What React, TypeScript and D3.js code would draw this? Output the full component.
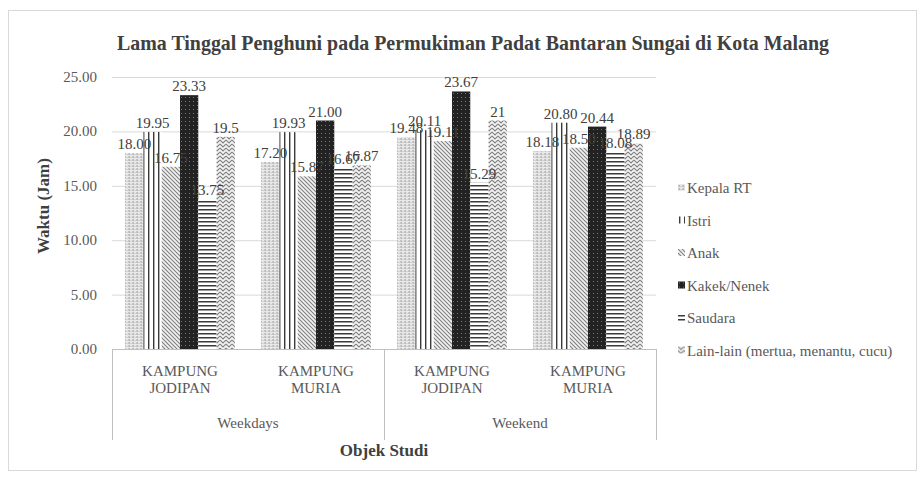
import * as d3 from "d3";
import { useEffect, useRef } from "react";

const title =
  "Lama Tinggal Penghuni pada Permukiman Padat Bantaran Sungai di Kota Malang";
const groups = ["Weekdays", "Weekend"];
const places = ["KAMPUNG|JODIPAN", "KAMPUNG|MURIA"];
const categories = ["wd-jodipan", "wd-muria", "we-jodipan", "we-muria"];
const series = [
  "Kepala RT",
  "Istri",
  "Anak",
  "Kakek/Nenek",
  "Saudara",
  "Lain-lain (mertua, menantu, cucu)",
];
// one array per category, in the series order
const wdJodipan = [18.0, 19.95, 16.75, 23.33, 13.75, 19.5];
const wdMuria = [17.2, 19.93, 15.87, 21.0, 16.67, 16.87];
const weJodipan = [19.48, 20.11, 19.11, 23.67, 15.29, 21];
const weMuria = [18.18, 20.8, 18.5, 20.44, 18.08, 18.89];
const labelText = [
  ["18.00", "19.95", "16.75", "23.33", "13.75", "19.5"],
  ["17.20", "19.93", "15.87", "21.00", "16.67", "16.87"],
  ["19.48", "20.11", "19.11", "23.67", "15.29", "21"],
  ["18.18", "20.80", "18.50", "20.44", "18.08", "18.89"],
];
const yTicks = [0, 5, 10, 15, 20, 25];
const patternIds = ["pKepala", "pIstri", "pAnak", "pKakek", "pSaudara", "pLain"];

const FONT = "Liberation Serif, DejaVu Serif, serif";

export default function App() {
  const ref = useRef(null);
  const width = 924;
  const height = 478;

  useEffect(() => {
    draw();
  });

  function draw() {
    const svg = d3.select(ref.current);
    // clean the slate
    svg.selectAll("*").remove();
    svg.attr("width", width).attr("height", height).style("font-family", FONT);

    // fill patterns like the Excel ones
    const defs = svg.append("defs");
    const pk = defs
      .append("pattern")
      .attr("id", "pKepala")
      .attr("patternUnits", "userSpaceOnUse")
      .attr("width", 4)
      .attr("height", 3);
    pk.append("rect").attr("width", 4).attr("height", 3).attr("fill", "#e8e8e8");
    pk.append("rect").attr("x", 0.5).attr("width", 1.2).attr("height", 2).attr("fill", "#a6a6a6");
    pk.append("rect").attr("x", 2.5).attr("y", 1).attr("width", 1).attr("height", 1).attr("fill", "#c0c0c0");

    const pi = defs
      .append("pattern")
      .attr("id", "pIstri")
      .attr("patternUnits", "userSpaceOnUse")
      .attr("width", 5)
      .attr("height", 5);
    pi.append("rect").attr("width", 5).attr("height", 5).attr("fill", "#fff");
    pi.append("rect").attr("x", 1).attr("width", 1.4).attr("height", 5).attr("fill", "#3a3a3a");

    const pa = defs
      .append("pattern")
      .attr("id", "pAnak")
      .attr("patternUnits", "userSpaceOnUse")
      .attr("width", 4)
      .attr("height", 4);
    pa.append("rect").attr("width", 4).attr("height", 4).attr("fill", "#f2f2f2");
    pa.append("path")
      .attr("d", "M-1,-1 L5,5 M-1,3 L1,5 M3,-1 L5,1")
      .attr("stroke", "#808080")
      .attr("stroke-width", 1.1);

    const pn = defs
      .append("pattern")
      .attr("id", "pKakek")
      .attr("patternUnits", "userSpaceOnUse")
      .attr("width", 4)
      .attr("height", 4);
    pn.append("rect").attr("width", 4).attr("height", 4).attr("fill", "#222");
    pn.append("rect").attr("x", 1).attr("y", 1).attr("width", 1).attr("height", 1).attr("fill", "#777");

    const ps = defs
      .append("pattern")
      .attr("id", "pSaudara")
      .attr("patternUnits", "userSpaceOnUse")
      .attr("width", 4)
      .attr("height", 4);
    ps.append("rect").attr("width", 4).attr("height", 4).attr("fill", "#fff");
    ps.append("rect").attr("y", 1).attr("width", 4).attr("height", 1.5).attr("fill", "#3a3a3a");

    const pl = defs
      .append("pattern")
      .attr("id", "pLain")
      .attr("patternUnits", "userSpaceOnUse")
      .attr("width", 6)
      .attr("height", 4);
    pl.append("rect").attr("width", 6).attr("height", 4).attr("fill", "#f4f4f4");
    pl.append("path")
      .attr("d", "M0,0 L3,3 L6,0 M0,4 L3,7 L6,4 M0,-4 L3,-1 L6,-4")
      .attr("fill", "none")
      .attr("stroke", "#808080")
      .attr("stroke-width", 1.1);

    // outer frame
    svg
      .append("rect")
      .attr("x", 8.5)
      .attr("y", 10.5)
      .attr("width", 908)
      .attr("height", 460)
      .attr("fill", "#fff")
      .attr("stroke", "#d9d9d9");

    const left = 112;
    const right = 656;
    const x0 = d3.scaleBand().domain(categories).range([left, right]);
    const x1 = d3
      .scaleBand()
      .domain(series)
      .range([0, x0.bandwidth()])
      .paddingOuter(0.72);
    const y = d3.scaleLinear().domain([0, 25]).range([349, 77]);

    // title
    svg
      .append("text")
      .attr("x", 473)
      .attr("y", 50)
      .attr("text-anchor", "middle")
      .attr("font-weight", 700)
      .attr("font-size", 22)
      .attr("fill", "#404040")
      .attr("textLength", 712)
      .attr("lengthAdjust", "spacingAndGlyphs")
      .text(title);

    // gridlines
    svg
      .append("g")
      .selectAll("line")
      .data(yTicks.slice(1))
      .enter()
      .append("line")
      .attr("x1", left)
      .attr("x2", right)
      .attr("y1", (d) => y(d) + 0.5)
      .attr("y2", (d) => y(d) + 0.5)
      .attr("stroke", "#d9d9d9");

    // y tick labels
    svg
      .append("g")
      .selectAll("text")
      .data(yTicks)
      .enter()
      .append("text")
      .attr("x", 97)
      .attr("y", (d) => y(d) + 5)
      .attr("text-anchor", "end")
      .attr("font-size", 15)
      .attr("fill", "#595959")
      .text((d) => d3.format(".2f")(d));

    // y axis label
    svg
      .append("text")
      .attr("transform", "rotate(-90)")
      .attr("x", -206)
      .attr("y", 49)
      .attr("text-anchor", "middle")
      .attr("font-weight", 700)
      .attr("font-size", 17)
      .attr("fill", "#404040")
      .text("Waktu (Jam)");

    // bars
    const rows = [wdJodipan, wdMuria, weJodipan, weMuria];
    const bars = svg
      .append("g")
      .selectAll("g")
      .data(rows)
      .enter()
      .append("g")
      .attr("transform", (_d, i) => "translate(" + x0(categories[i]) + ",0)");
    bars
      .selectAll("rect")
      .data((d) => d)
      .enter()
      .append("rect")
      .attr("x", (_d, j) => x1(series[j]))
      .attr("y", (d) => y(d))
      .attr("width", x1.bandwidth())
      .attr("height", (d) => y(0) - y(d))
      .attr("fill", (_d, j) => "url(#" + patternIds[j] + ")");

    // data labels
    bars
      .selectAll("text")
      .data((d, i) => d.map((v, j) => ({ v, t: labelText[i][j] })))
      .enter()
      .append("text")
      .attr("x", (_d, j) => (x1(series[j]) as number) + x1.bandwidth() / 2)
      .attr("y", (d) => y(d.v) - 4)
      .attr("text-anchor", "middle")
      .attr("font-size", 15)
      .attr("fill", "#404040")
      .text((d) => d.t);

    // category axis
    const axis = svg.append("g").attr("stroke", "#bfbfbf");
    axis
      .append("line")
      .attr("x1", left)
      .attr("x2", right)
      .attr("y1", y(0) + 0.5)
      .attr("y2", y(0) + 0.5);
    [left, (left + right) / 2, right].forEach((xv) => {
      axis
        .append("line")
        .attr("x1", xv + 0.5)
        .attr("x2", xv + 0.5)
        .attr("y1", y(0))
        .attr("y2", 440);
    });

    const catLabels = svg.append("g");
    categories.forEach((c, i) => {
      const cx = (x0(c) as number) + x0.bandwidth() / 2;
      const lines = places[i % 2].split("|");
      lines.forEach((ln, k) => {
        catLabels
          .append("text")
          .attr("x", cx)
          .attr("y", 376 + k * 17)
          .attr("text-anchor", "middle")
          .attr("font-size", 15)
          .attr("fill", "#595959")
          .text(ln);
      });
    });
    groups.forEach((g, i) => {
      const cx =
        ((x0(categories[i * 2]) as number) +
          (x0(categories[i * 2 + 1]) as number) +
          x0.bandwidth()) /
        2;
      catLabels
        .append("text")
        .attr("x", cx)
        .attr("y", 428)
        .attr("text-anchor", "middle")
        .attr("font-size", 15)
        .attr("fill", "#595959")
        .text(g);
    });

    svg
      .append("text")
      .attr("x", 384)
      .attr("y", 456)
      .attr("text-anchor", "middle")
      .attr("font-weight", 700)
      .attr("font-size", 17)
      .attr("fill", "#404040")
      .text("Objek Studi");

    // legend
    const legend = svg
      .append("g")
      .selectAll("g")
      .data(series)
      .enter()
      .append("g")
      .attr("transform", (_d, i) => "translate(678," + (188 + i * 32.5) + ")");
    legend
      .append("rect")
      .attr("x", 0)
      .attr("y", -4)
      .attr("width", 7)
      .attr("height", 7)
      .attr("fill", (_d, i) => "url(#" + patternIds[i] + ")");
    legend
      .append("text")
      .attr("x", 9)
      .attr("y", 5)
      .attr("font-size", 15)
      .attr("fill", "#595959")
      .text((d) => d);
  }

  return (
    <svg
      width={width}
      height={height}
      ref={ref}
      style={{ position: "absolute", left: 0, top: 0 }}
    ></svg>
  );
}
